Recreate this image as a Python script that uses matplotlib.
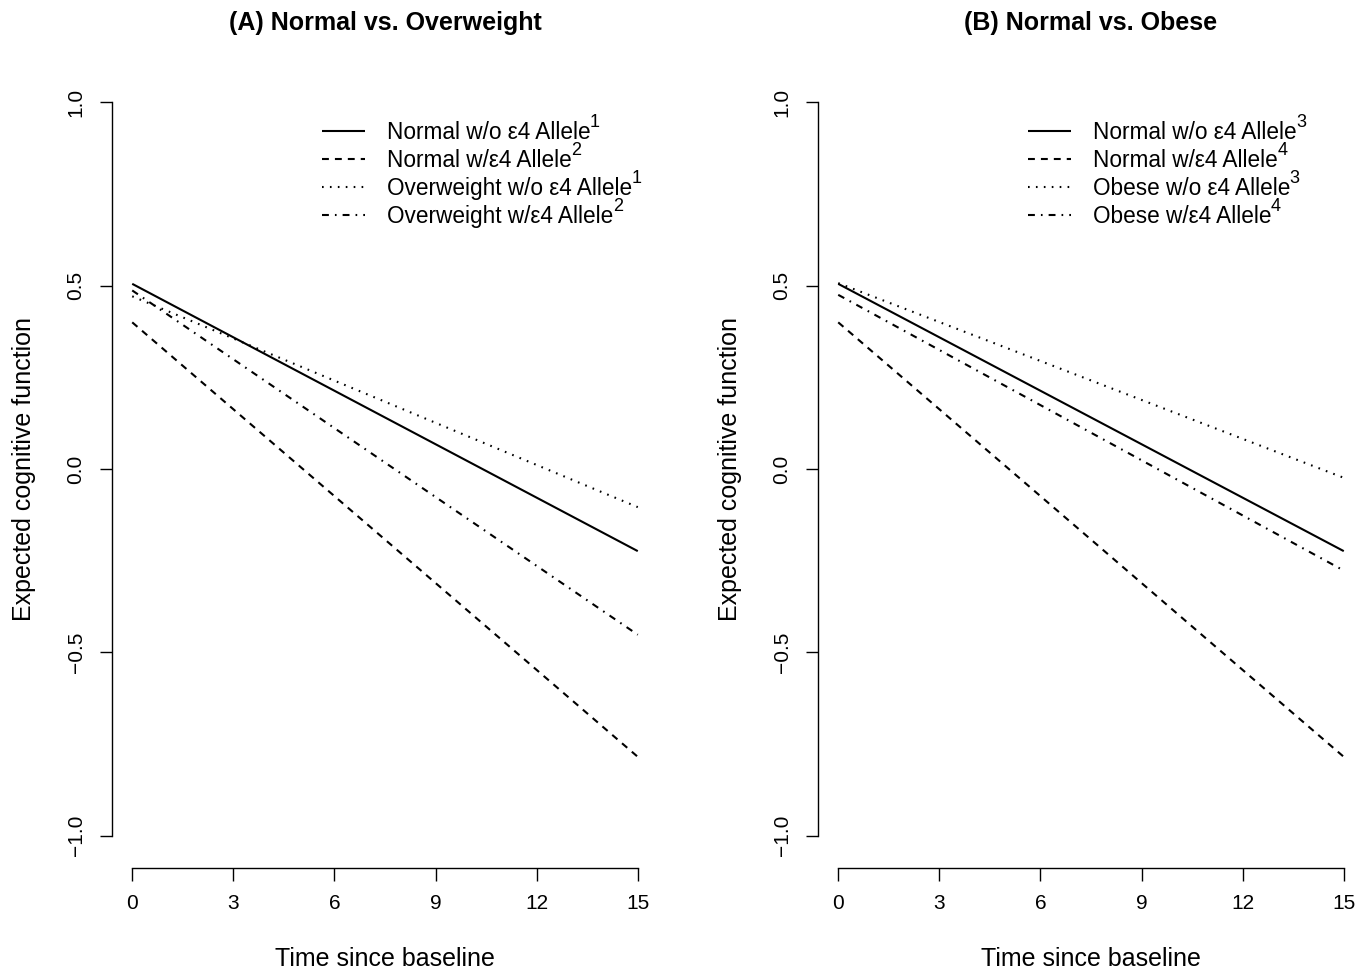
import matplotlib
matplotlib.use("Agg")
import matplotlib.pyplot as plt

plt.rcParams['font.family'] = ['Liberation Sans', 'DejaVu Sans']

# ---- data ----
time = [0, 15]
x_ticks = [0, 3, 6, 9, 12, 15]
y_ticks = [-1.0, -0.5, 0.0, 0.5, 1.0]
y_tick_labels = ["\u22121.0", "\u22120.5", "0.0", "0.5", "1.0"]

titles = ["(A) Normal vs. Overweight", "(B) Normal vs. Obese"]

a_normal_wo = [0.505, -0.224]
a_normal_w = [0.400, -0.785]
a_over_wo = [0.471, -0.104]
a_over_w = [0.487, -0.452]

b_normal_wo = [0.505, -0.224]
b_normal_w = [0.400, -0.785]
b_obese_wo = [0.507, -0.024]
b_obese_w = [0.475, -0.277]

a_labels = ["Normal w/o \u03b54 Allele", "Normal w/\u03b54 Allele",
            "Overweight w/o \u03b54 Allele", "Overweight w/\u03b54 Allele"]
a_sups = ["1", "2", "1", "2"]
b_labels = ["Normal w/o \u03b54 Allele", "Normal w/\u03b54 Allele",
            "Obese w/o \u03b54 Allele", "Obese w/\u03b54 Allele"]
b_sups = ["3", "4", "3", "4"]

# ---- styles ----
LW = 1.5
styles = [dict(linestyle='-'),
          dict(linestyle=(0, (3.3, 2.9))),
          dict(linestyle=(0, (0.8, 3.0))),
          dict(linestyle=(0, (3.3, 2.9, 0.8, 2.9)))]

fig = plt.figure(figsize=(13.72, 9.69), dpi=100)
W, H = 1372, 969
positions = [(112, 73, 546, 792), (818, 73, 546, 792)]

panels = [([a_normal_wo, a_normal_w, a_over_wo, a_over_w], a_labels, a_sups),
          ([b_normal_wo, b_normal_w, b_obese_wo, b_obese_w], b_labels, b_sups)]

for (px, py, pw, ph), (series, labels, sups), title in zip(positions, panels, titles):
    ax = fig.add_axes([px / W, 1 - (py + ph) / H, pw / W, ph / H])
    for vals, st, lab in zip(series, styles, labels):
        ax.plot(time, vals, color='black', linewidth=LW, label=lab,
                solid_capstyle='butt', dash_capstyle='butt', **st)
    ax.set_xlim(-0.6, 15.6)
    ax.set_ylim(-1.08, 1.08)
    for s in ['top', 'right']:
        ax.spines[s].set_visible(False)
    ax.spines['left'].set_position(('outward', 0))
    ax.spines['bottom'].set_position(('outward', 2))
    ax.spines['left'].set_bounds(-1.0, 1.0)
    ax.spines['bottom'].set_bounds(0, 15)
    for s in ['left', 'bottom']:
        ax.spines[s].set_linewidth(1.0)
    ax.set_xticks(x_ticks)
    ax.set_xticklabels([str(t) for t in x_ticks])
    ax.set_yticks(y_ticks)
    ax.set_yticklabels(y_tick_labels, rotation=90, va='center')
    ax.tick_params(axis='both', length=9, width=1.0, labelsize=15, pad=10)
    ax.set_xlabel("Time since baseline", fontsize=18, labelpad=24)
    ax.set_ylabel("Expected cognitive function", fontsize=18, labelpad=22)
    ax.set_title(title, fontsize=18, fontweight='bold', pad=31)
    leg = ax.legend(loc='upper left', bbox_to_anchor=(0.385, 0.94), frameon=False,
                    fontsize=16.3, handlelength=1.9, handletextpad=0.96,
                    labelspacing=0.23, borderpad=0, borderaxespad=0)
    leg.set_zorder(5)
    for t, sup in zip(leg.get_texts(), sups):
        ax.annotate(sup, xy=(1, 1), xycoords=t, xytext=(-0.4, 5.0),
                    textcoords='offset points', ha='left', va='top',
                    fontsize=13, zorder=6)

fig.canvas.draw()
fig.savefig("out.png", dpi=100)
